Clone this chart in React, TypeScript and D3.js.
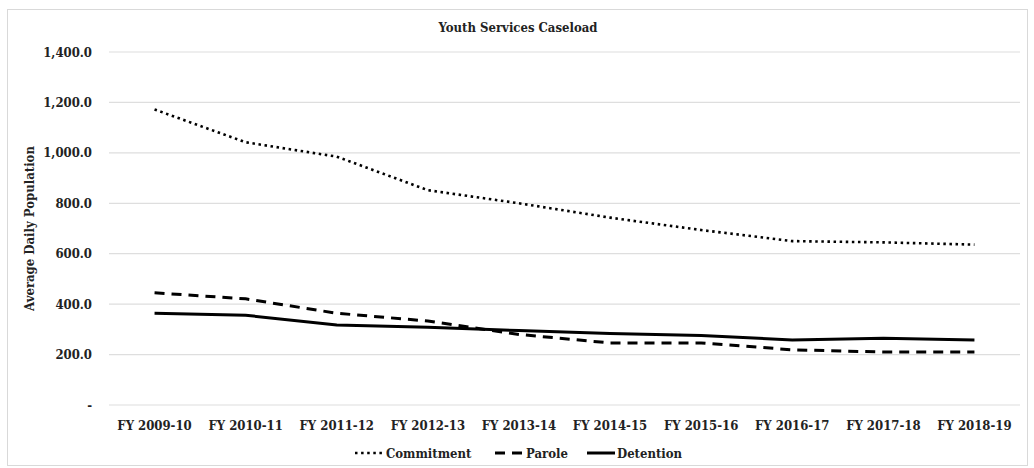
import React from "react";
import * as d3 from "d3";

const categories = ["FY 2009-10", "FY 2010-11", "FY 2011-12", "FY 2012-13", "FY 2013-14", "FY 2014-15", "FY 2015-16", "FY 2016-17", "FY 2017-18", "FY 2018-19"];
const commitment = [1172, 1042, 985, 852, 800, 743, 694, 650, 645, 636];
const parole = [445, 421, 364, 333, 280, 246, 246, 219, 210, 210];
const detention = [364, 356, 317, 308, 295, 284, 276, 258, 265, 258];
const yTicks = [0, 200, 400, 600, 800, 1000, 1200, 1400];

const W = 1034, H = 468;
const FONT = "'DejaVu Serif Condensed', 'DejaVu Serif', serif";

const series = [
  { name: "Commitment", values: commitment, dash: "2.5 3.6", width: 2.6 },
  { name: "Parole", values: parole, dash: "10 7", width: 3 },
  { name: "Detention", values: detention, dash: "none", width: 3 },
];

export default function App() {
  const left = 109, right = 1020, top = 52, bottom = 405;
  const x = d3.scaleBand<string>().domain(categories).range([left, right]);
  const y = d3.scaleLinear().domain([0, 1400]).range([bottom, top]);
  const line = d3.line<number>()
    .x((_, i) => (x(categories[i]) as number) + x.bandwidth() / 2)
    .y((d) => y(d));
  const fmt = (v: number) => (v === 0 ? "-" : d3.format(",.1f")(v));

  const legendItems = [
    { s: series[0], lx: 355, tx: 386 },
    { s: series[1], lx: 495, tx: 526 },
    { s: series[2], lx: 587, tx: 617 },
  ];
  const ts = { fontFamily: FONT, fontWeight: 700 } as React.CSSProperties;

  return (
    <svg width={W} height={H} style={{ position: "absolute", left: 0, top: 0, background: "#fff" }}>
      <rect x={7.5} y={9.5} width={1020} height={456} fill="#fff" stroke="#d9d9d9" strokeWidth={1} />
      <text x={518} y={32} textAnchor="middle" fontSize={13} fill="#222" style={ts}>Youth Services Caseload</text>
      {yTicks.map((t) => (
        <g key={t}>
          <line x1={left} x2={right} y1={y(t)} y2={y(t)} stroke="#dedede" strokeWidth={1.2} />
          <text x={92} y={y(t)} dy="0.35em" textAnchor="end" fontSize={13} fill="#222" style={ts}>{fmt(t)}</text>
        </g>
      ))}
      {categories.map((c) => (
        <text key={c} x={(x(c) as number) + x.bandwidth() / 2} y={430} textAnchor="middle" fontSize={13} fill="#222" style={ts}>{c}</text>
      ))}
      <text transform={`translate(34,${(top + bottom) / 2}) rotate(-90)`} textAnchor="middle" fontSize={13} fill="#222" style={ts}>Average Daily Population</text>
      {series.map((s) => (
        <path key={s.name} d={line(s.values) as string} fill="none" stroke="#000" strokeWidth={s.width} strokeDasharray={s.dash} />
      ))}
      {legendItems.map(({ s, lx, tx }) => (
        <g key={s.name}>
          <line x1={lx} x2={tx - 2} y1={453} y2={453} stroke="#000" strokeWidth={s.width} strokeDasharray={s.dash} />
          <text x={tx} y={453} dy="0.35em" fontSize={13} fill="#222" style={ts}>{s.name}</text>
        </g>
      ))}
    </svg>
  );
}
